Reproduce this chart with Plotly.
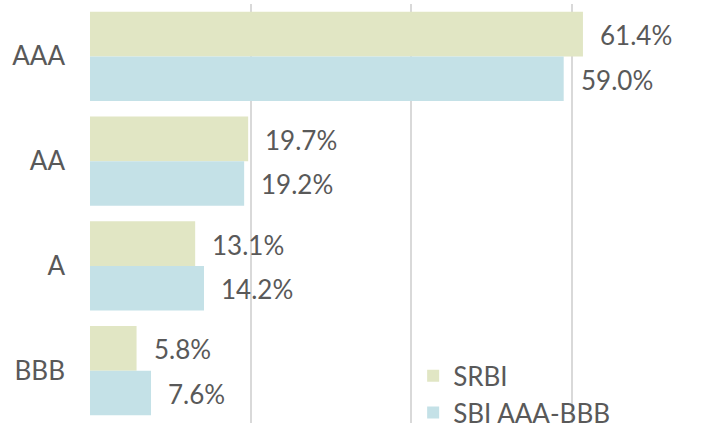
import plotly.graph_objects as go

categories = ["AAA", "AA", "A", "BBB"]
srbi = [61.4, 19.7, 13.1, 5.8]
sbi = [59.0, 19.2, 14.2, 7.6]
series_names = ["SRBI", "SBI AAA-BBB"]
colors = ["#e1e6c4", "#c4e1e7"]

W = 0.425
pos = list(range(len(categories)))
y_srbi = [p - W / 2 for p in pos]
y_sbi = [p + W / 2 for p in pos]

font = dict(family="Lato, sans-serif", size=26, color="#595959")

fig = go.Figure()
fig.add_trace(go.Bar(y=y_srbi, x=srbi, orientation="h", width=W, name=series_names[0],
                     marker=dict(color=colors[0], line=dict(width=0))))
fig.add_trace(go.Bar(y=y_sbi, x=sbi, orientation="h", width=W, name=series_names[1],
                     marker=dict(color=colors[1], line=dict(width=0))))

for ys, vals in ((y_srbi, srbi), (y_sbi, sbi)):
    for y, v in zip(ys, vals):
        fig.add_annotation(x=v, y=y, text=f"{v:.1f}%", showarrow=False,
                           xanchor="left", yanchor="middle", xshift=15, yshift=-1, font=font)

fig.update_layout(
    width=728, height=429,
    margin=dict(l=90, r=76, t=4, b=6, autoexpand=False),
    plot_bgcolor="white", paper_bgcolor="white",
    font=font,
    barmode="overlay",
    showlegend=True,
    legend=dict(x=0.575, y=-0.032, xanchor="left", yanchor="bottom", traceorder="normal",
                font=font, bgcolor="rgba(0,0,0,0)", itemclick=False, tracegroupgap=0),
    xaxis=dict(range=[0, 70], tickvals=[0, 20, 40, 60], showticklabels=False,
               showgrid=True, gridcolor="#d9d9d9", gridwidth=1.5, zeroline=False,
               showline=False, fixedrange=True),
    yaxis=dict(range=[len(categories) - 0.5, -0.5], tickvals=pos, ticktext=categories,
               showgrid=False, zeroline=False, showline=False, ticks="",
               ticklabelstandoff=24, fixedrange=True),
)

fig.write_html("out.html")
